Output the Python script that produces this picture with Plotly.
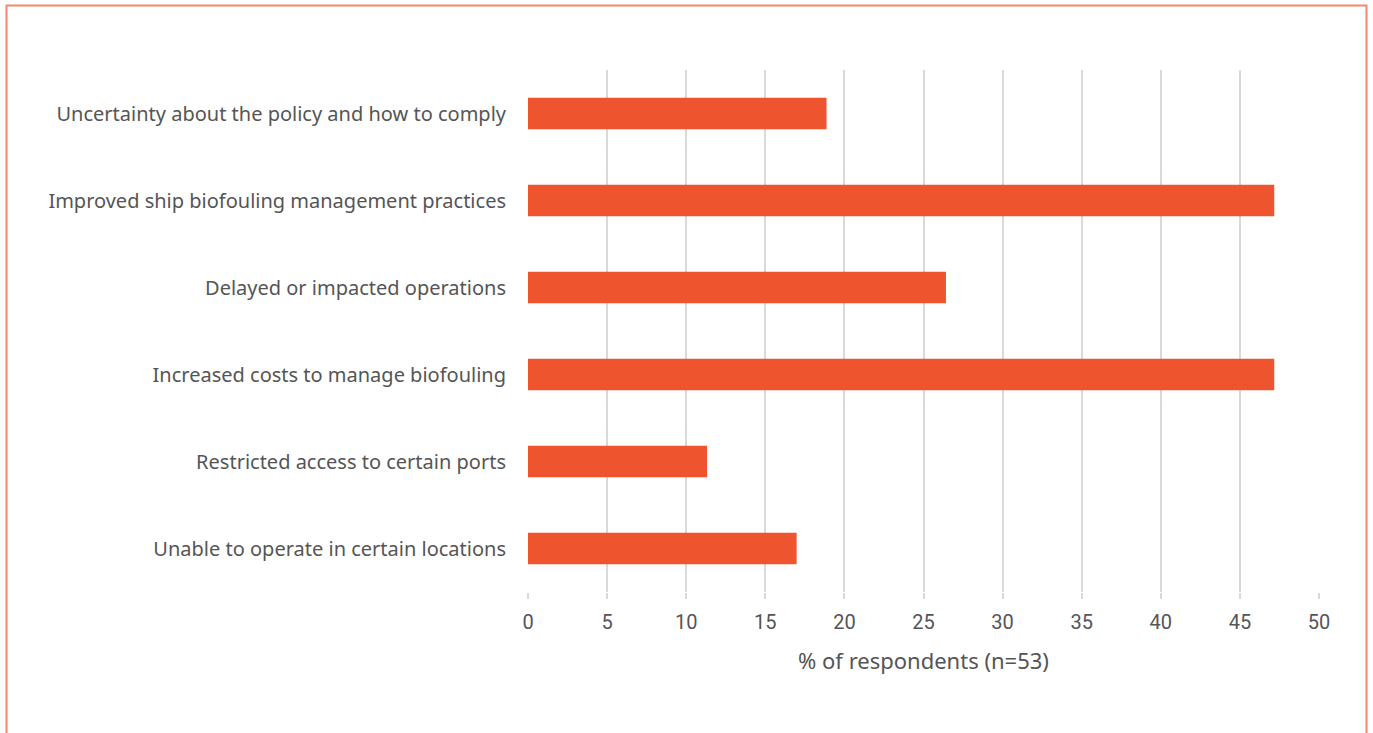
import plotly.graph_objects as go

categories = [
    "Uncertainty about the policy and how to comply",
    "Improved ship biofouling management practices",
    "Delayed or impacted operations",
    "Increased costs to manage biofouling",
    "Restricted access to certain ports",
    "Unable to operate in certain locations",
]
values = [18.87, 47.17, 26.42, 47.17, 11.32, 16.98]
tick_vals = [0, 5, 10, 15, 20, 25, 30, 35, 40, 45, 50]

W, H = 1373, 733
L, R, T, B = 528, 1319, 70, 592

fig = go.Figure(go.Bar(
    y=categories, x=values, orientation="h",
    marker=dict(color="#EE552F", line=dict(width=0)),
    width=0.36, hoverinfo="x+y",
))

def px_x(p):
    return (p - L) / (R - L)

def px_y(p):
    return (B - p) / (B - T)

fig.add_shape(type="rect",
              xref="paper", yref="paper",
              x0=px_x(6.5), x1=px_x(1366.5), y0=px_y(760), y1=px_y(5.5),
              line=dict(color="#F4886A", width=2), fillcolor="rgba(0,0,0,0)")

fig.update_layout(
    width=W, height=H,
    margin=dict(l=L, r=W - R, t=T, b=H - B),
    paper_bgcolor="white", plot_bgcolor="white",
    font=dict(family="Noto Sans", color="#555555", size=20),
    showlegend=False,
)
fig.update_xaxes(
    range=[0, 50], tickvals=tick_vals, ticktext=[str(v) for v in tick_vals],
    showgrid=True, gridcolor="#D9D9D9", gridwidth=2,
    zeroline=False, showline=False,
    ticks="outside", ticklen=6, tickcolor="#D9D9D9", tickwidth=2,
    ticklabelstandoff=6,
    tickfont=dict(family="Roboto", size=20, color="#555555"),
    title=dict(text="% of respondents (n=53)", standoff=20,
               font=dict(family="Noto Sans", size=22, color="#555555")),
)
fig.update_yaxes(
    categoryorder="array", categoryarray=categories[::-1],
    showgrid=False, zeroline=False, showline=False,
    ticks="", ticklabelstandoff=21,
    tickfont=dict(family="Noto Sans", size=20, color="#555555"),
)

fig.write_html("out.html", config={"displayModeBar": False},
               post_script="document.body.style.margin='0';document.body.style.overflow='hidden';")
